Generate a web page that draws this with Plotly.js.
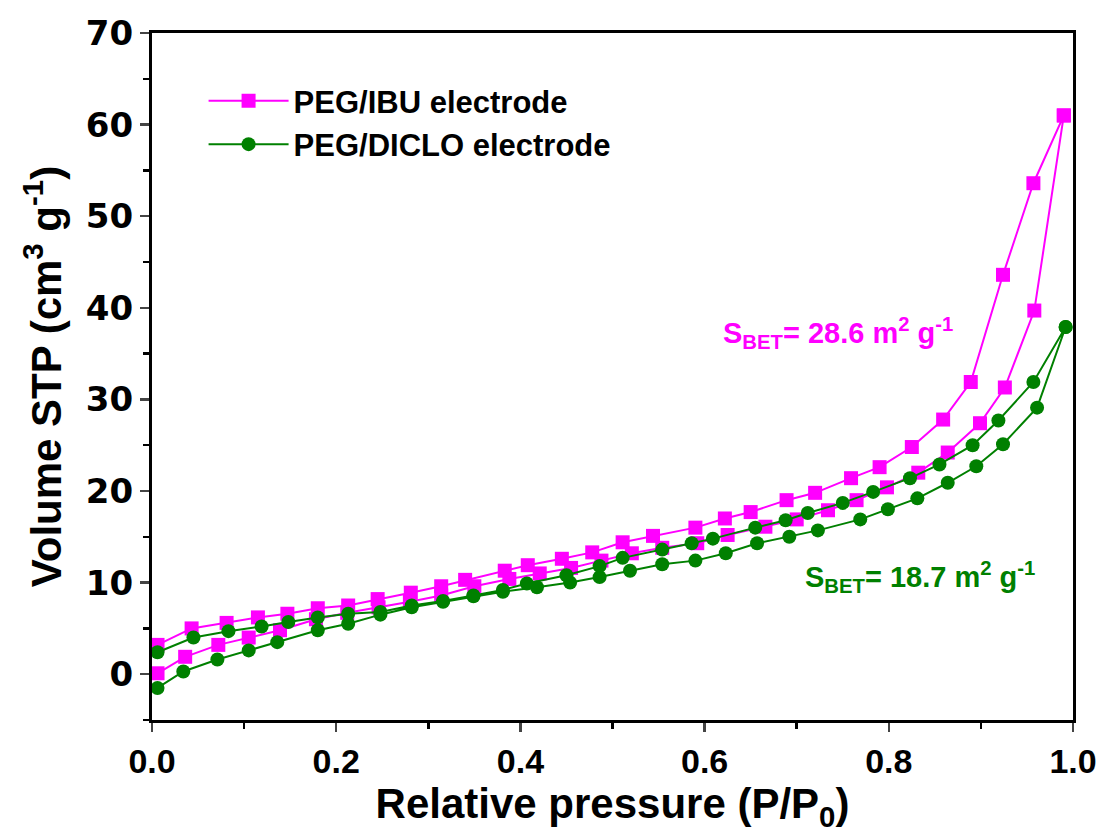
<!DOCTYPE html>
<html>
<head>
<meta charset="utf-8">
<script src="https://cdn.plot.ly/plotly-3.0.1.min.js"></script>
<style>html,body{margin:0;padding:0;background:#fff;}#chart{width:1110px;height:839px;}</style>
</head>
<body>
<div id="chart"></div>
<script>
// PEG/IBU electrode — adsorption branch (P/P0 increasing)
const ibuAdsX = [0.006,0.036,0.072,0.105,0.139,0.178,0.212,0.246,0.280,0.314,0.350,0.388,0.421,0.455,0.488,0.521,0.554,0.592,0.625,0.666,0.700,0.734,0.765,0.798,0.832,0.864,0.899,0.926,0.958,0.990];
const ibuAdsY = [0.1,1.9,3.2,4.0,4.8,6.0,6.7,7.3,7.9,8.6,9.6,10.4,11.0,11.6,12.4,13.2,13.8,14.3,15.2,16.1,16.9,17.9,19.0,20.4,22.0,24.2,27.4,31.3,39.7,61.0];
// PEG/IBU electrode — desorption branch (P/P0 decreasing)
const ibuDesX = [0.990,0.957,0.924,0.889,0.859,0.825,0.790,0.759,0.720,0.689,0.650,0.622,0.590,0.544,0.511,0.478,0.445,0.408,0.383,0.340,0.314,0.281,0.245,0.213,0.180,0.147,0.115,0.081,0.043,0.006];
const ibuDesY = [61.0,53.6,43.6,31.9,27.8,24.8,22.6,21.4,19.8,19.0,17.7,17.0,16.0,15.1,14.4,13.3,12.6,11.9,11.3,10.3,9.6,8.9,8.2,7.5,7.2,6.6,6.2,5.6,5.0,3.2];
// PEG/DICLO electrode — adsorption branch
const dicAdsX = [0.006,0.034,0.071,0.105,0.136,0.180,0.213,0.248,0.282,0.316,0.349,0.381,0.418,0.454,0.486,0.519,0.554,0.590,0.623,0.657,0.692,0.723,0.769,0.799,0.831,0.864,0.895,0.924,0.961,0.992];
const dicAdsY = [-1.5,0.3,1.6,2.6,3.5,4.8,5.5,6.5,7.3,7.9,8.5,9.0,9.5,10.0,10.6,11.3,12.0,12.4,13.2,14.3,15.0,15.7,16.9,18.0,19.2,20.9,22.7,25.1,29.1,37.9];
// PEG/DICLO electrode — desorption branch
const dicDesX = [0.992,0.957,0.919,0.891,0.855,0.823,0.783,0.750,0.712,0.688,0.655,0.609,0.586,0.554,0.511,0.486,0.450,0.407,0.381,0.349,0.316,0.282,0.248,0.213,0.180,0.148,0.119,0.083,0.045,0.006];
const dicDesY = [37.9,31.9,27.7,25.0,22.9,21.4,19.9,18.7,17.6,16.8,16.0,14.8,14.3,13.6,12.7,11.8,10.8,9.9,9.2,8.6,8.0,7.5,6.8,6.6,6.2,5.7,5.2,4.7,4.0,2.4];

const seriesNames = ["PEG/IBU electrode","PEG/DICLO electrode"];
const xTickVals = [0,0.2,0.4,0.6,0.8,1.0];
const xTickText = ["0.0","0.2","0.4","0.6","0.8","1.0"];
const yTickVals = [0,10,20,30,40,50,60,70];

const magenta = "#FF00FF";
const green = "#008000";

const ibuX = ibuAdsX.concat(ibuDesX);
const ibuY = ibuAdsY.concat(ibuDesY);
const dicX = dicAdsX.concat(dicDesX);
const dicY = dicAdsY.concat(dicDesY);

const traces = [
  {x: ibuX, y: ibuY, name: seriesNames[0], mode: "lines+markers", cliponaxis:false,
   line:{color:magenta,width:2}, marker:{symbol:"square",size:14,color:magenta}},
  {x: dicX, y: dicY, name: seriesNames[1], mode: "lines+markers", cliponaxis:false,
   line:{color:green,width:2}, marker:{symbol:"circle",size:14,color:green}}
];

const boldFont = "Liberation Sans, Arial, sans-serif";
const layout = {
  width:1110, height:839,
  margin:{l:152, r:37, t:33, b:119},
  paper_bgcolor:"#fff", plot_bgcolor:"#fff",
  showlegend:true,
  legend:{x:0.056, y:0.94, xanchor:"left", yanchor:"top", bgcolor:"rgba(0,0,0,0)",
          font:{family:boldFont, size:31, color:"#000", weight:"bold"}, itemwidth:80, tracegroupgap:0},
  xaxis:{range:[0,1.0], tickvals:xTickVals, ticktext:xTickText, ticks:"outside", ticklen:9, tickwidth:2.5,
         showline:true, linewidth:3, linecolor:"#000", mirror:true, showgrid:false, zeroline:false,
         minor:{dtick:0.1, ticks:"outside", ticklen:6, tickwidth:2.5, tickcolor:"#000", showgrid:false},
         tickfont:{family:boldFont, size:34, color:"#000", weight:"bold"},
         title:{text:"Relative pressure (P/P<sub>0</sub>)", font:{family:boldFont, size:42, color:"#000", weight:"bold"}, standoff:8}},
  yaxis:{range:[-5,70], tickvals:yTickVals, ticks:"outside", ticklen:9, tickwidth:2.5,
         showline:true, linewidth:3, linecolor:"#000", mirror:true, showgrid:false, zeroline:false,
         minor:{dtick:5, ticks:"outside", ticklen:6, tickwidth:2.5, tickcolor:"#000", showgrid:false},
         tickfont:{family:"DejaVu Sans, sans-serif", size:34, color:"#000", weight:"bold"},
         title:{text:"Volume STP (cm<sup>3</sup> g<sup>-1</sup>)", font:{family:boldFont, size:42, color:"#000", weight:"bold"}, standoff:12}},
  annotations:[
    {x:0.618, y:37.3, xref:"x", yref:"y", xanchor:"left", yanchor:"middle", showarrow:false,
     text:"S<sub>BET</sub>= 28.6 m<sup>2</sup> g<sup>-1</sup>", font:{family:boldFont, size:29, color:magenta, weight:"bold"}},
    {x:0.707, y:10.6, xref:"x", yref:"y", xanchor:"left", yanchor:"middle", showarrow:false,
     text:"S<sub>BET</sub>= 18.7 m<sup>2</sup> g<sup>-1</sup>", font:{family:boldFont, size:29, color:green, weight:"bold"}}
  ]
};

Plotly.newPlot("chart", traces, layout, {displayModeBar:false, staticPlot:true});
</script>
</body>
</html>
